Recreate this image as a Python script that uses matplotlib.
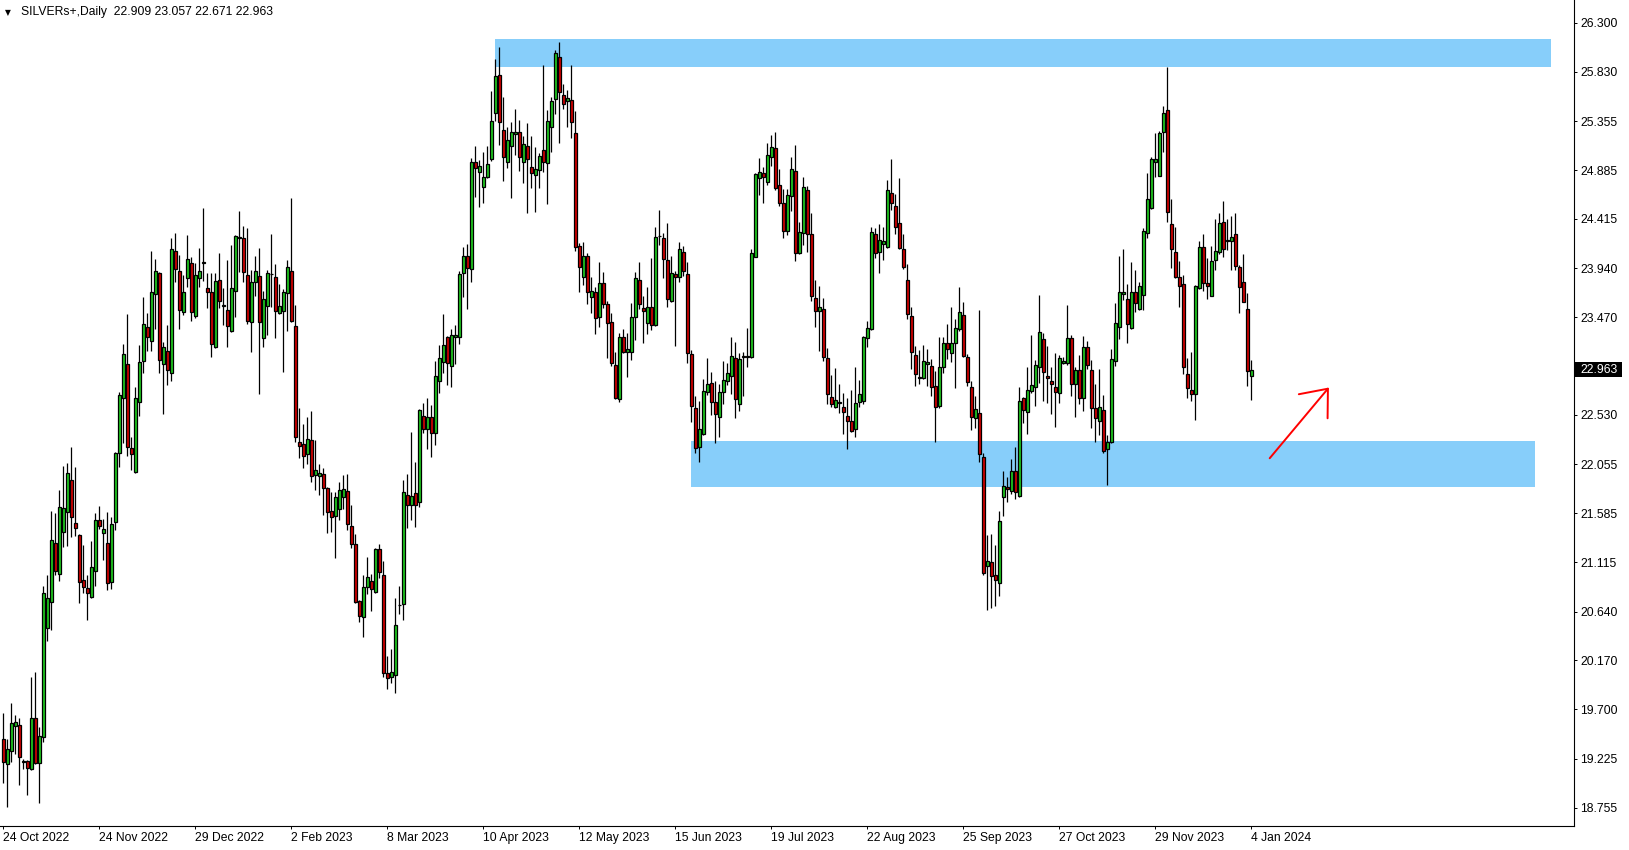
import numpy as np
import matplotlib
matplotlib.use("Agg")
from matplotlib import pyplot as plt
from matplotlib.patches import Rectangle

plt.rcParams['font.family'] = ['Liberation Sans', 'DejaVu Sans']

# ---------- data (daily bars, SILVERs+) ----------
opens = [19.411, 19.171, 19.302, 19.542, 19.546, 19.193, 19.203, 19.126, 19.613, 19.180,
         19.437, 20.478, 20.735, 21.296, 20.997, 21.401, 21.600, 21.905, 21.488, 21.376,
         20.943, 20.863, 20.783, 21.033, 21.520, 21.398, 21.296, 20.920, 21.500, 22.162,
         22.690, 23.017, 22.210, 21.985, 22.658, 23.053, 23.380, 23.242, 23.690, 23.892,
         23.017, 23.149, 22.937, 24.107, 23.912, 23.517, 23.844, 23.988, 23.485, 23.844,
         23.990, 23.748, 23.716, 23.187, 23.828, 23.578, 23.539, 23.341, 23.725, 24.235,
         24.228, 23.876, 23.421, 23.812, 23.866, 23.273, 23.581, 23.882, 23.853, 23.507,
         23.533, 23.699, 23.911, 23.389, 22.267, 22.248, 22.151, 22.286, 21.953, 21.946,
         21.959, 21.824, 21.607, 21.562, 21.623, 21.744, 21.799, 21.462, 21.289, 20.741,
         20.584, 20.879, 20.933, 20.831, 21.238, 20.991, 20.046, 20.014, 20.030, 20.700,
         20.709, 21.757, 21.664, 21.776, 21.697, 22.524, 22.392, 22.514, 22.360, 22.860,
         23.043, 23.277, 23.004, 23.277, 23.277, 23.892, 24.062, 23.931, 24.960, 24.870,
         24.719, 24.822, 24.988, 25.431, 25.799, 25.270, 24.960, 25.120, 25.229, 25.248,
         24.966, 25.117, 24.911, 24.835, 24.886, 25.078, 24.950, 25.303, 25.565, 25.969,
         25.604, 25.549, 25.559, 25.238, 24.155, 23.854, 24.059, 23.668, 23.716, 23.476,
         23.796, 23.594, 23.421, 23.011, 22.681, 23.277, 23.139, 23.139, 23.469, 23.828,
         23.555, 23.417, 23.565, 23.395, 24.248, 24.228, 24.017, 23.629, 23.885, 23.860,
         24.094, 23.882, 23.113, 22.594, 22.225, 22.344, 22.754, 22.834, 22.651, 22.507,
         22.748, 22.857, 22.908, 23.074, 22.632, 23.093, 23.087, 23.084, 24.052, 24.805,
         24.853, 24.773, 25.007, 25.094, 24.741, 24.565, 24.302, 24.638, 24.876, 24.090,
         24.276, 24.693, 24.267, 23.651, 23.533, 23.545, 23.074, 22.699, 22.610, 22.652,
         22.604, 22.523, 22.472, 22.392, 22.658, 22.668, 23.267, 23.354, 24.267, 24.100,
         24.171, 24.148, 24.661, 24.539, 24.373, 24.123, 23.828, 23.482, 23.107, 22.892,
         22.882, 23.017, 23.001, 22.809, 22.620, 22.988, 23.219, 23.129, 23.219, 23.354,
         23.491, 23.084, 22.796, 22.498, 22.552, 22.123, 21.078, 21.113, 20.991, 20.911,
         21.738, 21.834, 21.802, 21.991, 21.754, 22.697, 22.556, 22.764, 22.802, 22.995,
         23.260, 22.908, 22.860, 22.802, 22.738, 23.026, 23.026, 23.267, 22.824, 22.962,
         22.690, 23.180, 22.962, 22.594, 22.475, 22.578, 22.199, 22.267, 23.049, 23.379,
         23.690, 23.642, 23.369, 23.709, 23.545, 23.683, 24.276, 24.517, 24.959, 24.831,
         25.254, 25.462, 24.363, 24.094, 23.853, 23.786, 22.920, 22.770, 22.728, 23.747,
         24.142, 23.795, 23.674, 24.020, 24.100, 24.382, 24.212, 24.203, 24.267, 23.956,
         23.805, 23.549, 22.909]

highs = [19.661, 19.411, 19.757, 19.645, 19.613, 19.225, 19.212, 20.007, 20.062, 19.533,
         20.885, 20.991, 21.606, 21.584, 21.808, 22.039, 22.065, 22.225, 22.033, 21.390,
         21.280, 20.991, 21.321, 21.584, 21.655, 21.526, 21.600, 21.550, 22.178, 22.755,
         23.210, 23.498, 22.322, 22.796, 23.203, 23.668, 23.508, 24.107, 24.030, 23.908,
         23.229, 23.396, 24.229, 24.277, 24.069, 23.876, 24.261, 24.046, 23.988, 24.133,
         24.520, 23.892, 23.892, 23.892, 24.084, 23.748, 24.020, 24.164, 24.260, 24.491,
         24.347, 24.331, 23.924, 24.058, 24.139, 23.722, 23.924, 24.270, 23.978, 23.786,
         23.738, 24.020, 24.613, 23.587, 22.594, 22.440, 22.514, 22.568, 22.289, 22.058,
         22.017, 21.840, 21.792, 21.792, 21.882, 21.953, 21.962, 21.664, 21.385, 20.750,
         20.991, 21.167, 21.001, 21.254, 21.289, 21.126, 20.212, 20.276, 20.767, 20.885,
         21.905, 21.962, 22.369, 22.081, 22.585, 22.642, 22.690, 22.626, 23.049, 23.203,
         23.501, 23.290, 23.357, 23.395, 23.915, 24.142, 24.171, 24.998, 25.117, 24.982,
         25.062, 25.117, 25.645, 25.953, 26.072, 25.591, 25.303, 25.351, 25.472, 25.367,
         25.213, 25.335, 25.213, 25.104, 25.053, 25.895, 25.463, 25.591, 26.040, 26.113,
         25.710, 25.655, 25.895, 25.453, 24.181, 24.197, 24.085, 23.860, 23.764, 23.998,
         23.902, 23.629, 23.508, 23.139, 23.315, 23.357, 23.315, 23.603, 23.908, 24.004,
         23.674, 23.757, 24.036, 24.334, 24.501, 24.283, 24.379, 24.058, 23.914, 24.196,
         24.158, 24.004, 23.155, 22.712, 22.664, 22.876, 23.081, 22.946, 22.857, 22.824,
         23.052, 23.026, 23.283, 23.235, 23.129, 23.132, 23.363, 24.122, 24.853, 25.004,
         24.911, 25.148, 25.222, 25.247, 24.892, 24.699, 24.699, 25.007, 25.126, 24.382,
         24.815, 24.731, 24.469, 23.828, 23.770, 23.651, 23.170, 22.914, 22.979, 22.828,
         22.738, 22.690, 22.770, 22.988, 22.866, 23.289, 23.434, 24.341, 24.331, 24.366,
         24.335, 24.789, 24.991, 24.652, 24.812, 24.270, 23.982, 23.565, 23.197, 23.155,
         23.203, 23.164, 23.068, 22.953, 23.283, 23.283, 23.405, 23.565, 23.450, 23.757,
         23.620, 23.116, 22.857, 22.713, 23.540, 22.168, 21.376, 21.386, 21.280, 21.607,
         21.995, 21.931, 22.107, 22.225, 22.802, 22.706, 22.988, 23.299, 23.059, 23.684,
         23.315, 23.193, 22.994, 23.122, 23.106, 23.090, 23.587, 23.299, 22.994, 23.106,
         23.289, 23.241, 23.058, 22.828, 22.972, 22.722, 22.337, 23.164, 23.603, 24.058,
         24.122, 23.786, 23.997, 23.924, 23.805, 24.324, 24.853, 25.013, 25.238, 25.260,
         25.504, 25.879, 24.606, 24.340, 24.010, 23.876, 23.081, 23.138, 23.779, 24.203,
         24.267, 24.042, 24.154, 24.411, 24.469, 24.587, 24.411, 24.443, 24.469, 23.972,
         24.074, 23.699, 23.057]

lows = [18.988, 18.764, 19.196, 19.270, 18.972, 19.122, 18.876, 19.116, 19.174, 18.802,
        19.389, 20.360, 20.462, 20.991, 20.937, 21.257, 21.270, 21.360, 21.366, 20.725,
        20.821, 20.558, 20.770, 20.885, 21.433, 21.135, 20.847, 20.860, 21.420, 22.027,
        22.258, 22.139, 22.001, 21.976, 22.521, 22.937, 23.149, 23.149, 23.354, 22.937,
        22.537, 22.819, 22.860, 23.806, 23.354, 23.492, 23.764, 23.437, 23.460, 23.764,
        23.822, 23.562, 23.091, 23.171, 23.555, 23.395, 23.187, 23.331, 23.475, 23.908,
        23.805, 23.401, 23.139, 23.677, 22.732, 23.187, 23.299, 23.571, 23.273, 23.498,
        22.946, 23.341, 23.427, 22.267, 22.119, 22.023, 22.055, 21.882, 21.808, 21.760,
        21.568, 21.398, 21.408, 21.158, 21.520, 21.623, 21.424, 21.248, 20.719, 20.536,
        20.398, 20.808, 20.648, 20.815, 20.959, 20.014, 19.892, 19.956, 19.860, 20.616,
        20.558, 21.440, 21.520, 21.449, 21.642, 22.360, 22.200, 22.129, 22.242, 22.738,
        22.937, 22.819, 22.803, 23.020, 23.210, 23.668, 23.546, 23.806, 24.623, 24.533,
        24.572, 24.812, 24.976, 25.360, 25.126, 24.783, 24.908, 24.620, 25.030, 24.879,
        24.764, 24.469, 24.710, 24.485, 24.710, 24.863, 24.556, 25.062, 25.421, 25.142,
        25.472, 25.303, 25.197, 24.110, 23.716, 23.780, 23.597, 23.514, 23.306, 23.373,
        23.556, 23.075, 23.001, 22.681, 22.658, 23.129, 22.898, 23.058, 23.251, 23.549,
        23.225, 23.308, 23.347, 23.389, 24.164, 23.850, 23.571, 23.619, 23.196, 23.812,
        23.866, 23.033, 22.466, 22.161, 22.081, 22.340, 22.722, 22.530, 22.257, 22.321,
        22.635, 22.818, 22.731, 22.497, 22.571, 22.712, 22.994, 23.078, 24.045, 24.645,
        24.571, 24.741, 24.924, 24.693, 24.542, 24.235, 24.260, 24.494, 24.013, 24.074,
        24.164, 24.100, 23.626, 23.379, 23.148, 23.052, 22.635, 22.603, 22.594, 22.552,
        22.344, 22.200, 22.370, 22.322, 22.610, 22.636, 23.187, 23.350, 24.036, 23.898,
        24.020, 24.140, 24.501, 24.267, 24.126, 23.934, 23.453, 22.972, 22.809, 22.825,
        22.876, 22.812, 22.716, 22.273, 22.600, 22.937, 23.068, 23.043, 22.786, 23.341,
        23.084, 22.809, 22.386, 22.402, 22.081, 20.991, 20.655, 20.671, 20.693, 20.790,
        21.559, 21.697, 21.770, 21.722, 21.745, 22.456, 22.347, 22.745, 22.620, 22.834,
        22.667, 22.642, 22.536, 22.417, 22.642, 23.020, 23.010, 22.715, 22.513, 22.632,
        22.571, 22.972, 22.408, 22.273, 22.337, 22.167, 21.856, 22.260, 23.004, 23.257,
        23.635, 23.225, 23.360, 23.517, 23.540, 23.539, 24.228, 24.510, 24.821, 24.830,
        25.062, 24.388, 23.940, 23.850, 23.565, 22.920, 22.696, 22.667, 22.481, 23.740,
        23.725, 23.642, 23.670, 23.924, 24.078, 24.052, 24.116, 23.924, 23.924, 23.513,
        23.613, 22.808, 22.671]

closes = [19.196, 19.315, 19.565, 19.574, 19.244, 19.199, 19.132, 19.613, 19.180, 19.443,
          20.821, 20.767, 21.328, 21.033, 21.648, 21.632, 21.969, 21.546, 21.446, 20.927,
          20.879, 20.821, 21.065, 21.520, 21.465, 21.430, 20.911, 21.480, 22.162, 22.722,
          23.113, 22.226, 22.155, 22.690, 23.037, 23.402, 23.283, 23.710, 23.912, 23.059,
          23.187, 22.963, 24.123, 23.931, 23.540, 23.710, 24.027, 23.517, 23.876, 23.912,
          24.000, 23.716, 23.210, 23.818, 23.629, 23.584, 23.389, 23.748, 24.251, 24.245,
          23.901, 23.437, 23.805, 23.914, 23.427, 23.645, 23.892, 23.888, 23.533, 23.581,
          23.709, 23.949, 23.437, 22.321, 22.235, 22.139, 22.296, 21.946, 22.001, 21.969,
          21.824, 21.600, 21.552, 21.738, 21.808, 21.815, 21.478, 21.286, 20.735, 20.600,
          20.873, 20.969, 20.857, 21.241, 21.023, 20.046, 19.998, 20.055, 20.510, 20.706,
          21.786, 21.664, 21.751, 21.664, 22.578, 22.392, 22.514, 22.354, 22.908, 23.075,
          23.203, 23.033, 23.299, 23.299, 23.883, 24.059, 23.940, 24.966, 24.902, 24.924,
          24.815, 24.940, 25.357, 25.790, 25.351, 25.008, 25.174, 25.248, 25.248, 25.014,
          25.133, 24.988, 24.854, 24.892, 25.020, 24.966, 25.357, 25.549, 26.008, 25.633,
          25.520, 25.575, 25.351, 24.149, 23.956, 24.059, 23.716, 23.722, 23.460, 23.796,
          23.597, 23.418, 23.027, 22.697, 23.277, 23.139, 23.164, 23.469, 23.844, 23.594,
          23.533, 23.565, 23.395, 24.238, 24.255, 24.026, 23.642, 23.898, 23.860, 24.123,
          23.917, 23.123, 22.619, 22.216, 22.392, 22.760, 22.824, 22.658, 22.536, 22.748,
          22.866, 22.930, 23.097, 22.680, 23.068, 23.087, 23.093, 24.084, 24.844, 24.863,
          24.815, 25.029, 25.103, 24.715, 24.571, 24.302, 24.645, 24.892, 24.084, 24.286,
          24.719, 24.267, 23.677, 23.533, 23.571, 23.090, 22.731, 22.632, 22.674, 22.644,
          22.562, 22.475, 22.379, 22.642, 22.729, 23.277, 23.370, 24.286, 24.084, 24.213,
          24.203, 24.693, 24.565, 24.341, 24.139, 23.956, 23.498, 23.139, 22.921, 22.882,
          23.049, 23.036, 22.796, 22.610, 22.995, 23.219, 23.161, 23.219, 23.370, 23.517,
          23.097, 22.844, 22.507, 22.584, 22.152, 21.007, 21.126, 20.982, 20.943, 21.511,
          21.847, 21.815, 21.995, 21.793, 22.665, 22.578, 22.770, 22.818, 23.011, 23.331,
          22.940, 22.882, 22.824, 22.754, 23.074, 23.049, 23.267, 22.824, 22.962, 22.690,
          23.180, 23.010, 22.594, 22.504, 22.603, 22.187, 22.273, 23.068, 23.411, 23.709,
          23.709, 23.401, 23.709, 23.603, 23.770, 24.299, 24.606, 24.988, 24.988, 25.238,
          25.430, 24.478, 24.122, 23.860, 23.770, 22.994, 22.786, 22.731, 23.773, 24.142,
          23.802, 23.770, 24.013, 24.110, 24.372, 24.122, 24.203, 24.244, 23.965, 23.763,
          23.619, 22.956, 22.963]

price_ticks = [26.300, 25.830, 25.355, 24.885, 24.415, 23.940, 23.470, 23.000, 22.530,
               22.055, 21.585, 21.115, 20.640, 20.170, 19.700, 19.225, 18.755]
date_labels = ['24 Oct 2022', '24 Nov 2022', '29 Dec 2022', '2 Feb 2023', '8 Mar 2023',
               '10 Apr 2023', '12 May 2023', '15 Jun 2023', '19 Jul 2023', '22 Aug 2023',
               '25 Sep 2023', '27 Oct 2023', '29 Nov 2023', '4 Jan 2024']
label_step = 24

# drawn zones (bar index from/to, price bottom/top) and arrow
zone_top = (122.9, 387.0, 25.879, 26.145)
zone_bottom = (171.9, 382.8, 21.840, 22.280)
arrow_from = (316.6, 22.114)
arrow_to = (331.4, 22.794)

title = 'SILVERs+,Daily  22.909 23.057 22.671 22.963'

#----------figure---------------------
W, H = 1629, 850
fig = plt.figure(figsize=(W / 100, H / 100), dpi=100)
fig.patch.set_facecolor('white')
ax = fig.add_axes([0, 24 / H, 1574 / W, 826 / H])

o = np.array(opens); h = np.array(highs); l = np.array(lows); c = np.array(closes)
x = np.arange(len(o))
col = np.where(c >= o, '#20c820', '#d00000')

for z in (zone_top, zone_bottom):
    ax.add_patch(Rectangle((z[0], z[2]), z[1] - z[0], z[3] - z[2],
                           facecolor='#87cefa', edgecolor='none', zorder=1))

ax.vlines(x, l, h, color='black', linewidth=0.9, zorder=2)
ax.bar(x, np.abs(c - o), bottom=np.minimum(o, c), width=0.75, color=col,
       edgecolor='black', linewidth=0.9, zorder=3)

ax.annotate('', xy=arrow_to, xytext=arrow_from,
            arrowprops=dict(arrowstyle='->, head_length=0.55, head_width=0.45',
                            color='red', lw=1.4, mutation_scale=30, shrinkA=0, shrinkB=0),
            zorder=4)

ax.set_xlim(-0.825, 392.675)
ax.set_ylim(18.578, 26.520)

ax.yaxis.tick_right()
ax.set_yticks(price_ticks)
ax.set_yticklabels(['%.3f' % p for p in price_ticks])
ax.tick_params(axis='y', direction='out', length=2.2, width=0.7, pad=2.5,
               labelsize=8.7, colors='black')
ax.set_xticks(range(0, len(o), label_step))
ax.set_xticklabels(date_labels, ha='left')
ax.tick_params(axis='x', direction='out', length=2.5, width=0.7, pad=1.5,
               labelsize=8.7, colors='black')

for s in ['left', 'top']:
    ax.spines[s].set_visible(False)
for s in ['right', 'bottom']:
    ax.spines[s].set_linewidth(0.8)
    ax.spines[s].set_color('black')

# title line at top left
fig.text(5 / W, 1 - 13 / H, '\u25bc', fontsize=5.5, family='DejaVu Sans', va='center')
fig.text(21 / W, 1 - 12.5 / H, title, fontsize=8.7, va='center')

# current price box
last = closes[-1]
ybox = 22.9 + (26.3 - last) * 104
fig.add_artist(Rectangle((1575 / W, 1 - (ybox + 7.5) / H), 47 / W, 15 / H,
                         transform=fig.transFigure, facecolor='black', edgecolor='none'))
fig.text(1580 / W, 1 - ybox / H, '%.3f' % last, color='white', fontsize=8.7, va='center')

fig.savefig('out.png', dpi=100, facecolor='white')
